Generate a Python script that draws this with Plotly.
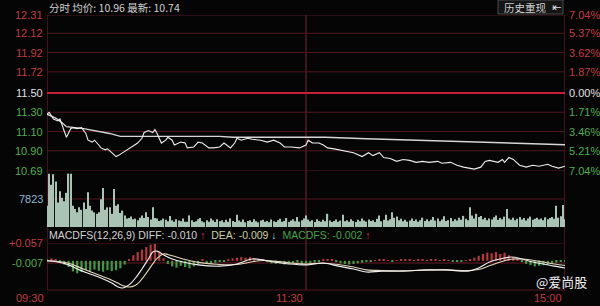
import plotly.graph_objects as go

# ---------------- data ----------------
price_tick_labels = ["12.31", "12.12", "11.92", "11.72", "11.50", "11.30", "11.10", "10.90", "10.69"]
pct_tick_labels = ["7.04%", "5.37%", "3.62%", "1.87%", "0.00%", "1.71%", "3.46%", "5.21%", "7.04%"]
prev_close = 11.50

time_labels = ["09:30", "11:30", "15:00"]
time_label_minutes = [0, 120, 240]

price_minutes = [0, 1, 3, 5, 6, 7, 9, 11, 12, 14, 16, 18, 19, 21, 22, 24, 25, 27, 28, 30,
                 32, 33, 35, 37, 39, 42, 44, 45, 47, 49, 50, 51, 53, 55, 56, 58, 59, 62, 64, 65,
                 68, 70, 72, 75, 77, 80, 82, 85, 87, 88, 90, 93, 95, 99, 102, 105, 108, 110, 113, 116,
                 117, 120, 121, 123, 126, 128, 130, 133, 137, 142, 146, 149, 151, 154, 156, 159, 162, 165, 168, 171,
                 174, 177, 181, 183, 187, 190, 193, 196, 198, 201, 203, 205, 209, 211, 212, 214, 216, 219, 222, 225,
                 228, 232, 234, 237, 240]
price_values = [11.28, 11.30, 11.23, 11.21, 11.23, 11.16, 11.04, 11.13, 11.14, 11.13, 11.14, 11.08, 11.01, 10.99, 11.01, 10.96, 10.93, 10.91, 10.92, 10.88,
                10.84, 10.85, 10.88, 10.91, 10.94, 10.98, 11.03, 11.09, 11.11, 11.09, 11.12, 11.08, 10.98, 11.01, 11.04, 11.01, 10.96, 10.99, 10.98, 10.93,
                10.94, 10.99, 10.98, 10.93, 10.93, 10.94, 10.98, 10.93, 10.98, 11.03, 11.01, 11.03, 11.02, 11.01, 10.99, 11.01, 10.98, 10.94, 10.94, 10.93,
                10.93, 10.96, 11.01, 10.98, 10.98, 10.96, 10.93, 10.92, 10.90, 10.88, 10.84, 10.88, 10.85, 10.88, 10.83, 10.82, 10.79, 10.81, 10.80, 10.78,
                10.79, 10.78, 10.79, 10.77, 10.78, 10.75, 10.73, 10.72, 10.71, 10.73, 10.79, 10.80, 10.78, 10.81, 10.78, 10.83, 10.81, 10.75, 10.73, 10.75,
                10.74, 10.76, 10.74, 10.72, 10.74]

avg_minutes = [0, 4, 7, 9, 17, 29, 34, 43, 80, 86, 117, 129, 148, 164, 188, 197, 210, 225, 240]
avg_values = [11.28, 11.24, 11.19, 11.15, 11.13, 11.08, 11.05, 11.05, 11.05, 11.04, 11.04, 11.04, 11.025, 11.015, 11.00, 10.99, 10.98, 10.974, 10.963]

volume = [5940, 14900, 11800, 14750, 12700, 6840, 10000, 8190, 7200, 9540, 14900, 14900, 5940, 5040, 4140, 5490, 4800, 6840, 5040, 9720,
          5940, 4590, 4100, 3690, 4140, 7740, 10900, 4800, 5490, 5490, 3690, 10620, 5940, 6390, 3900, 4590, 3240, 2340, 2520, 2900,
          2160, 2340, 1890, 2600, 3240, 2520, 4140, 2790, 2100, 5490, 2520, 2340, 1700, 1890, 2340, 2000, 1620, 3060, 1890, 1500,
          2160, 1800, 1620, 2340, 1500, 1440, 3240, 1890, 1400, 1620, 2160, 2520, 1620, 1300, 1890, 1500, 2340, 1890, 1400, 2160,
          1600, 1900, 1300, 2000, 1500, 2400, 1700, 1400, 3430, 1800, 1500, 2100, 1300, 1700, 1900, 1400, 2200, 1600, 1300, 1800,
          2000, 1500, 1700, 1300, 2100, 1600, 1400, 1900, 2300, 1500, 1700, 2500, 1400, 1800, 2200, 1600, 2800, 1500, 1900, 2400,
          3240, 2100, 1600, 1900, 1400, 2200, 1700, 1500, 2000, 1600, 3690, 1800, 1400, 1700, 2100, 1500, 1800, 3400, 1600, 1900,
          1500, 2200, 1700, 1400, 2000, 1600, 2400, 1800, 1500, 2100, 1700, 1900, 1400, 2300, 3240, 1600, 2000, 3430, 1800, 2200,
          4140, 2600, 2900, 1900, 2300, 1600, 2000, 1500, 1800, 2400, 1700, 2100, 1500, 1900, 2600, 1700, 2200, 1600, 2000, 2800,
          1800, 2400, 1600, 2100, 3000, 1700, 1900, 2500, 1600, 2200, 1800, 2600, 2000, 3100, 2300, 1900, 5490, 3240, 2400, 3690,
          2800, 3100, 2200, 2600, 1900, 2400, 2100, 2700, 3240, 2000, 2500, 2200, 2900, 5040, 2400, 2000, 2600, 1900, 2300, 2800,
          2100, 2500, 1800, 2400, 2900, 2000, 2300, 2600, 2100, 2400, 1900, 2700, 2200, 2500, 2800, 2300, 5940, 2600, 3000, 6120, 2200]
volume_minutes = list(range(len(volume)))
volume_tick_value = 7823

macd_minutes = [0, 5, 10, 15, 20, 25, 30, 33, 35, 38, 41, 44, 47, 49, 51, 54, 58, 63, 70, 80, 88, 95,
                100, 105, 112, 120, 128, 135, 142, 148, 155, 165, 175, 185, 195, 200, 205, 210, 215, 220, 225, 230, 235, 240]
diff_values = [0.000, -0.004, -0.013, -0.029, -0.042, -0.055, -0.071, -0.084, -0.087, -0.077, -0.055, -0.026, 0.006, 0.028, 0.031, 0.019, 0.006, -0.004, -0.013, -0.017, -0.010, 0.006,
               0.003, -0.004, -0.010, -0.013, -0.007, -0.017, -0.026, -0.036, -0.033, -0.033, -0.029, -0.029, -0.033, -0.023, -0.004, 0.006, 0.012, 0.006, -0.004, -0.010, -0.017, -0.023]
dea_values = [0.000, -0.002, -0.008, -0.021, -0.035, -0.048, -0.062, -0.072, -0.079, -0.084, -0.078, -0.058, -0.030, -0.010, 0.008, 0.022, 0.016, 0.006, -0.005, -0.012, -0.012, -0.003,
              0.001, -0.001, -0.006, -0.010, -0.008, -0.012, -0.020, -0.029, -0.031, -0.032, -0.030, -0.029, -0.031, -0.028, -0.016, -0.004, 0.005, 0.006, 0.002, -0.004, -0.010, -0.015]

hist_values = [0.004, 0.008, 0.006, -0.004, -0.012, -0.020, -0.034, -0.040, -0.036, -0.030,
               -0.034, -0.028, -0.032, -0.035, -0.030, -0.033, -0.030, -0.024, -0.012, 0.006,
               0.018, 0.028, 0.036, 0.044, 0.052, 0.054, 0.030, 0.008, -0.010, -0.018,
               -0.022, -0.016, -0.020, -0.024, -0.018, -0.012, 0.004, -0.008, -0.010, -0.006,
               -0.004, -0.002, 0.004, 0.008, 0.010, 0.012, 0.010, 0.012, 0.008, 0.006,
               0.004, -0.004, -0.008, -0.010, -0.008, -0.012, -0.010, -0.008, -0.006, -0.010,
               -0.008, -0.012, -0.006, -0.004, 0.004, 0.006, 0.004, -0.004, -0.008, -0.010,
               -0.012, -0.010, -0.008, -0.006, -0.004, -0.002, 0.002, 0.004, 0.003, 0.002,
               -0.002, 0.002, 0.004, 0.003, 0.004, 0.002, 0.003, 0.004, 0.002, 0.003,
               0.004, 0.002, 0.003, 0.002, -0.002, -0.003, -0.002, 0.002, 0.004, 0.010,
               0.016, 0.022, 0.026, 0.024, 0.028, 0.022, 0.026, 0.018, 0.012, 0.004,
               -0.004, -0.010, -0.014, -0.018, -0.016, -0.014, -0.012, -0.010, -0.006, -0.004,
               -0.002]
hist_minutes = [2 * i for i in range(len(hist_values))]
macd_tick_labels = ["+0.057", "-0.007"]
macd_tick_values = [0.057, -0.007]

# ---------------- layout helpers ----------------
W, H = 600, 306
def py(ypx):
    return 1 - ypx / H

X_DOM = [47 / W, 565 / W]
RED = "#c23a44"
GREEN = "#4fae52"
WHITE = "#e2e2e2"
GRID = "#521622"
FONT = "Liberation Sans, Arial, Noto Sans CJK SC, sans-serif"
CJK = "Noto Sans CJK SC, Liberation Sans, sans-serif"

fig = go.Figure()

fig.add_trace(go.Scatter(x=avg_minutes, y=avg_values, mode="lines",
                         line=dict(color="#d6d6d6", width=1.4), xaxis="x", yaxis="y", hoverinfo="skip"))
fig.add_trace(go.Scatter(x=price_minutes, y=price_values, mode="lines",
                         line=dict(color="#ececec", width=1.1), xaxis="x", yaxis="y", hoverinfo="skip"))

fig.add_trace(go.Bar(x=volume_minutes, y=volume, width=0.55, marker=dict(color="#a9c4b4", line=dict(width=0)),
                     xaxis="x2", yaxis="y2", hoverinfo="skip"))

fig.add_trace(go.Bar(x=hist_minutes, y=hist_values, width=1.0,
                     marker=dict(color=["#b8363c" if v >= 0 else "#3f9a48" for v in hist_values], line=dict(width=0)),
                     xaxis="x3", yaxis="y3", hoverinfo="skip"))
fig.add_trace(go.Scatter(x=macd_minutes, y=dea_values, mode="lines",
                         line=dict(color="#e3d6b8", width=1.1, shape="spline"), xaxis="x3", yaxis="y3", hoverinfo="skip"))
fig.add_trace(go.Scatter(x=macd_minutes, y=diff_values, mode="lines",
                         line=dict(color="#f2f2f2", width=1.1, shape="spline"), xaxis="x3", yaxis="y3", hoverinfo="skip"))

shapes = []
annotations = []

price_ticks = [float(t) for t in price_tick_labels]
for i, (val, lab, plab) in enumerate(zip(price_ticks, price_tick_labels, pct_tick_labels)):
    center = abs(val - prev_close) < 1e-9
    col = WHITE if center else (RED if val > prev_close else GREEN)
    shapes.append(dict(type="line", xref="x", yref="y", x0=0, x1=240, y0=val, y1=val,
                       line=dict(color="#c81e3c" if center else GRID, width=2 if center else 1), layer="below"))
    annotations.append(dict(x=45 / W, xref="paper", y=val, yref="y", text=lab, showarrow=False,
                            xanchor="right", yanchor="middle", font=dict(family=FONT, size=11, color=col)))
    annotations.append(dict(x=567 / W, xref="paper", y=val, yref="y", text=plab, showarrow=False,
                            xanchor="left", yanchor="middle", font=dict(family=FONT, size=11, color=col)))

# volume grid
shapes.append(dict(type="line", xref="x2", yref="y2", x0=0, x1=240, y0=volume_tick_value, y1=volume_tick_value,
                   line=dict(color=GRID, width=1), layer="below"))
annotations.append(dict(x=45 / W, xref="paper", y=volume_tick_value, yref="y2", text=str(volume_tick_value),
                        showarrow=False, xanchor="right", yanchor="middle",
                        font=dict(family=FONT, size=11, color="#8fb6d8")))

# macd grid
for val, lab in zip(macd_tick_values, macd_tick_labels):
    shapes.append(dict(type="line", xref="x3", yref="y3", x0=0, x1=240, y0=val, y1=val,
                       line=dict(color=GRID if val > 0 else "#6a1c28", width=1), layer="below"))
    annotations.append(dict(x=45 / W, xref="paper", y=val, yref="y3", text=lab, showarrow=False,
                            xanchor="right", yanchor="middle",
                            font=dict(family=FONT, size=11, color=RED if val > 0 else GREEN)))
shapes.append(dict(type="line", xref="x3", yref="paper", x0=0, x1=240, y0=py(290), y1=py(290),
                   line=dict(color=GRID, width=1), layer="below"))

# vertical borders
for m in time_label_minutes:
    shapes.append(dict(type="line", xref="x", yref="paper", x0=m, x1=m, y0=py(290), y1=py(15),
                       line=dict(color="#6e1e2c", width=1.2), layer="below"))

for m, lab in zip(time_label_minutes, time_labels):
    annotations.append(dict(x=m, xref="x", y=py(298), yref="paper", text=lab, showarrow=False,
                            xanchor="right", xshift=-1, yanchor="middle",
                            font=dict(family=FONT, size=11, color=RED)))

# header
annotations.append(dict(x=47 / W, xref="paper", y=py(7), yref="paper",
                        text="分时 均价: 10.96 最新: 10.74", showarrow=False,
                        xanchor="left", yanchor="middle", font=dict(family=CJK, size=10.5, color="#cfcfcf")))
shapes.append(dict(type="rect", xref="paper", yref="paper", x0=498 / W, x1=563 / W, y0=py(14), y1=py(0),
                   fillcolor="#151515", line=dict(color="#4a4a4a", width=1)))
annotations.append(dict(x=502 / W, xref="paper", y=py(7), yref="paper", text="历史重现", showarrow=False,
                        xanchor="left", yanchor="middle", font=dict(family=CJK, size=10.5, color="#d0d0d0")))
annotations.append(dict(x=556 / W, xref="paper", y=py(7), yref="paper", text="⇤", showarrow=False,
                        xanchor="center", yanchor="middle", font=dict(family="DejaVu Sans", size=11, color="#e0e0e0")))

# MACD legend row
macd_text = ('<span style="color:#d2d2d2">MACDFS(12,26,9) DIFF: -0.010</span>'
             '<span style="color:#d8363c"> ↑ </span>'
             '<span style="color:#c9cf9e"> DEA: -0.009</span>'
             '<span style="color:#7fc4e6"> ↓ </span>'
             '<span style="color:#3fa447"> MACDFS: -0.002</span>'
             '<span style="color:#d8363c"> ↑</span>')
annotations.append(dict(x=47 / W, xref="paper", y=py(235), yref="paper", text=macd_text, showarrow=False,
                        xanchor="left", yanchor="middle", font=dict(family=FONT, size=10.5)))

# watermark
annotations.append(dict(x=589 / W, xref="paper", y=py(281), yref="paper", text="@爱尚股", showarrow=False,
                        xanchor="right", yanchor="middle", font=dict(family=CJK, size=13, color="#f0f0f0")))

axis_off = dict(showgrid=False, zeroline=False, showticklabels=False, showline=False, ticks="", fixedrange=True)
fig.update_layout(
    width=W, height=H, autosize=False,
    margin=dict(l=0, r=0, t=0, b=0),
    paper_bgcolor="#050505", plot_bgcolor="#050505",
    showlegend=False, barmode="overlay",
    xaxis=dict(domain=X_DOM, range=[0, 240], anchor="y", **axis_off),
    xaxis2=dict(domain=X_DOM, range=[0, 240], anchor="y2", **axis_off),
    xaxis3=dict(domain=X_DOM, range=[0, 240], anchor="y3", **axis_off),
    yaxis=dict(domain=[py(171), py(15)], range=[10.69, 12.31], anchor="x", **axis_off),
    yaxis2=dict(domain=[py(227), py(171)], range=[0, 2 * volume_tick_value], anchor="x2", **axis_off),
    yaxis3=dict(domain=[py(290), py(243)], range=[-0.0934, 0.057], anchor="x3", **axis_off),
    shapes=shapes, annotations=annotations,
)

fig.write_html("out.html")
